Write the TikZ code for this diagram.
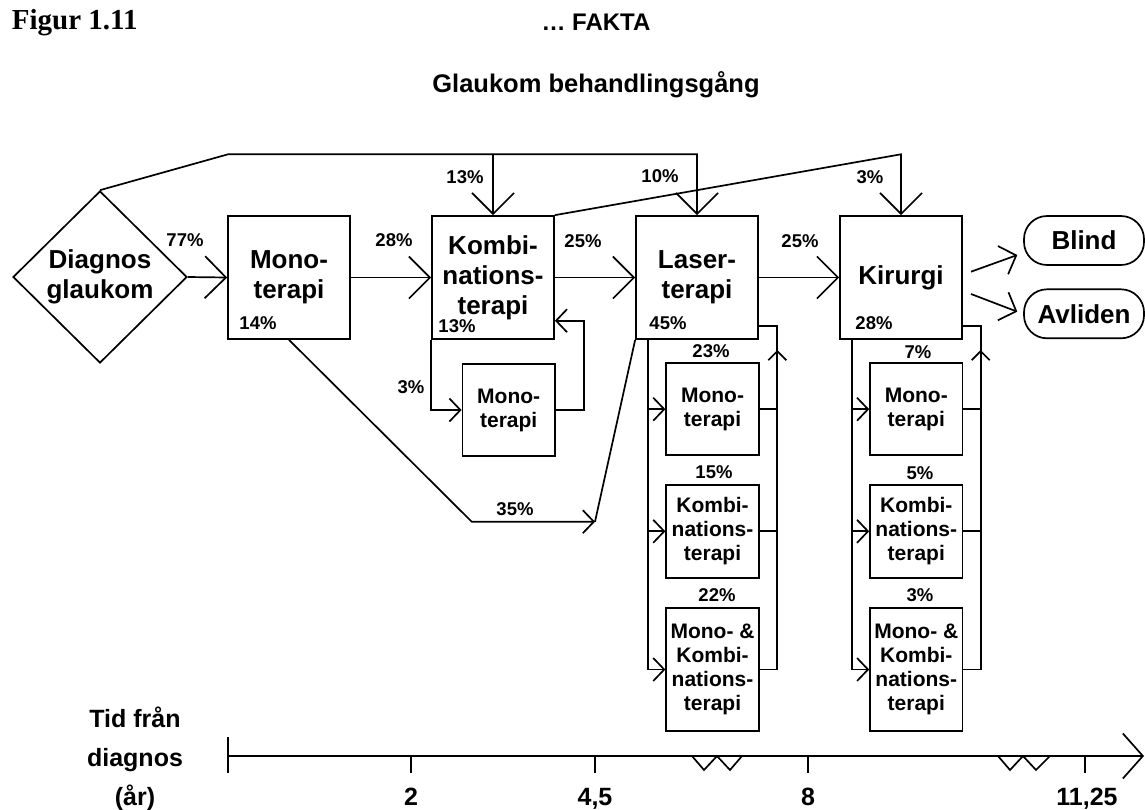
\documentclass[tikz,border=0pt]{standalone}
\usepackage{fontspec}
\setmainfont{Liberation Sans}
\newfontfamily\figserif{Liberation Serif}
\usetikzlibrary{arrows.meta,shapes.geometric}

\begin{document}
\begin{tikzpicture}[x=1pt,y=-1pt,
  line width=1.7pt, line join=miter,
  arrbig/.style={-{Straight Barb[length=21pt,width=42pt]}},
  arrmid/.style={-{Straight Barb[length=14pt,width=30pt]}},
  arrsmall/.style={-{Straight Barb[length=11pt,width=23pt]}},
  arrup/.style={-{Straight Barb[length=9pt,width=18pt]}},
  arraxis/.style={-{Straight Barb[length=20pt,width=45pt]}},
  mainbox/.style={draw, rectangle, inner sep=0pt, minimum width=122pt, minimum height=123pt,
    align=center, font=\fontsize{26}{30}\selectfont\bfseries},
  subbox/.style={draw, rectangle, inner sep=0pt, minimum width=92.5pt,
    align=center, font=\fontsize{21}{24}\selectfont\bfseries},
  endbox/.style={draw, rectangle, rounded corners=23pt, inner sep=0pt, minimum width=120pt,
    minimum height=49pt, font=\fontsize{26}{30}\selectfont\bfseries},
  pct/.style={inner sep=0pt, font=\fontsize{18.5}{20}\selectfont\bfseries},
  axlabel/.style={inner sep=0pt, anchor=base, font=\fontsize{25}{30}\selectfont\bfseries},
]
\useasboundingbox (0,0) rectangle (1145,809);

% header
\node[anchor=base west, inner sep=0pt, font=\figserif\fontsize{29}{32}\selectfont\bfseries] (fig) at (11,29.5) {Figur 1.11};
\node[anchor=base, inner sep=0pt, font=\fontsize{24}{28}\selectfont\bfseries] (fakta) at (596,30) {… FAKTA};
\node[anchor=base, inner sep=0pt, font=\fontsize{25.5}{30}\selectfont\bfseries] (title) at (596,92) {Glaukom behandlingsgång};

% main chain
\node[draw, shape=diamond, inner sep=0pt, minimum width=174pt, minimum height=172pt,
  align=center, font=\fontsize{26}{30}\selectfont\bfseries] (diag) at (100,277) {Diagnos\\glaukom};
\node[mainbox] (mono) at (289,277.5) {Mono-\\terapi};
\node[mainbox] (kombi) at (493,277.5) {Kombi-\\nations-\\terapi};
\node[mainbox] (laser) at (697,277.5) {Laser-\\terapi};
\node[mainbox] (kir) at (901,277.5) {Kirurgi};
\node[endbox] (blind) at (1084,240.5) {Blind};
\node[endbox] (avl) at (1084,313.8) {Avliden};

% sub-treatments
\node[subbox, minimum height=92.5pt] (kmono) at (508.7,410) {Mono-\\terapi};
\node[subbox, minimum height=92pt] (lmono) at (712.5,409.2) {Mono-\\terapi};
\node[subbox, minimum height=92.7pt] (lkombi) at (712.5,531.3) {Kombi-\\nations-\\terapi};
\node[subbox, minimum height=122.4pt] (lmk) at (712.5,669.5) {Mono- \&\\Kombi-\\nations-\\terapi};
\node[subbox, minimum height=92pt] (rmono) at (916.3,409.2) {Mono-\\terapi};
\node[subbox, minimum height=92.7pt] (rkombi) at (916.3,531.3) {Kombi-\\nations-\\terapi};
\node[subbox, minimum height=122.4pt] (rmk) at (916.3,669.5) {Mono- \&\\Kombi-\\nations-\\terapi};

% routing points
\coordinate (topL) at (228,154.3);
\coordinate (b35a) at (471.7,521.7);
\coordinate (b35b) at (595,521.7);
\coordinate (kloop) at (584,320.7);
\coordinate (lL) at (648.3,339);
\coordinate (lR) at (777.3,326);
\coordinate (lUp) at (777.3,350);
\coordinate (rL) at (852.3,339);
\coordinate (rR) at (980.7,326);
\coordinate (rUp) at (980.7,350);
\coordinate (tb0) at (971,271.7);
\coordinate (tb1) at (1017.3,255);
\coordinate (ta0) at (971,294);
\coordinate (ta1) at (1017.3,311.7);

% main flow
\draw[arrbig] (diag.east) -- (mono.west);
\draw[arrbig] (mono.east) -- (kombi.west);
\draw[arrbig] (kombi.east) -- (laser.west);
\draw[arrbig] (laser.east) -- (kir.west);
\draw[arrmid] (tb0) -- (tb1);
\draw[arrmid] (ta0) -- (ta1);

% top bypass lines
\draw[arrbig] (diag.north) -- (topL) -| (laser.north);
\draw[arrbig] (kombi.north |- topL) -- (kombi.north);
\draw[arrbig] (kombi.north east) -- (kir.north |- topL) -- (kir.north);

% mono directly to laser
\draw[arrsmall] (mono.south) -- (b35a) -- (b35b);
\draw (b35b) -- (laser.south west);

% kombination loop
\draw[arrsmall] (kombi.south west) |- (kmono.west);
\draw[arrsmall] (kmono.east) -| (kloop) -- (kombi.east |- kloop);

% laser column
\draw[arrsmall] (lL) |- (lmk.west);
\draw[arrsmall] (lL |- lmono.west) -- (lmono.west);
\draw[arrsmall] (lL |- lkombi.west) -- (lkombi.west);
\draw (lmk.east) -| (lR) -- (laser.east |- lR);
\draw (lmono.east) -- (lR |- lmono.east);
\draw (lkombi.east) -- (lR |- lkombi.east);
\draw[arrup] (lR |- lmono.east) -- (lUp);

% kirurgi column
\draw[arrsmall] (rL) |- (rmk.west);
\draw[arrsmall] (rL |- rmono.west) -- (rmono.west);
\draw[arrsmall] (rL |- rkombi.west) -- (rkombi.west);
\draw (rmk.east) -| (rR) -- (kir.east |- rR);
\draw (rmono.east) -- (rR |- rmono.east);
\draw (rkombi.east) -- (rR |- rkombi.east);
\draw[arrup] (rR |- rmono.east) -- (rUp);

% percentages
\node[pct] (p77) at (185,240) {77\%};
\node[pct] (p28) at (394,240) {28\%};
\node[pct] (p14) at (258,323) {14\%};
\node[pct] (p13a) at (465,177) {13\%};
\node[pct] (p10) at (660,176) {10\%};
\node[pct] (p3a) at (870,177) {3\%};
\node[pct] (p25a) at (583,241) {25\%};
\node[pct] (p25b) at (800,241) {25\%};
\node[pct] (p13b) at (457,326) {13\%};
\node[pct] (p3b) at (411,387) {3\%};
\node[pct] (p35) at (515,509) {35\%};
\node[pct] (p45) at (668,323) {45\%};
\node[pct] (p23) at (711,351) {23\%};
\node[pct] (p15) at (714,472) {15\%};
\node[pct] (p22) at (717,595) {22\%};
\node[pct] (p28b) at (874,323) {28\%};
\node[pct] (p7) at (918,352) {7\%};
\node[pct] (p5) at (920,473) {5\%};
\node[pct] (p3c) at (920,595) {3\%};

% time axis
\coordinate (ax0) at (228,756);
\coordinate (axE) at (1144,756);
\draw[arraxis] (ax0) -- (axE);
\draw (228,737) -- (228,773);
\draw (411,756) -- (411,773);
\draw (595,756) -- (595,773);
\draw (808,756) -- (808,773);
\draw (1085,756) -- (1085,773);
\draw (692,756) -- (704,770) -- (717,756) -- (730,770) -- (742,756);
\draw (998,756) -- (1010,770) -- (1023,756) -- (1036,770) -- (1050,756);

\node[axlabel] (tid1) at (135,727) {Tid från};
\node[axlabel] (tid2) at (135,766) {diagnos};
\node[axlabel] (tid3) at (135,805) {(år)};
\node[axlabel] (t2) at (411,805) {2};
\node[axlabel] (t45) at (595,805) {4,5};
\node[axlabel] (t8) at (808,805) {8};
\node[axlabel] (t1125) at (1087,805) {11,25};
\end{tikzpicture}
\end{document}
